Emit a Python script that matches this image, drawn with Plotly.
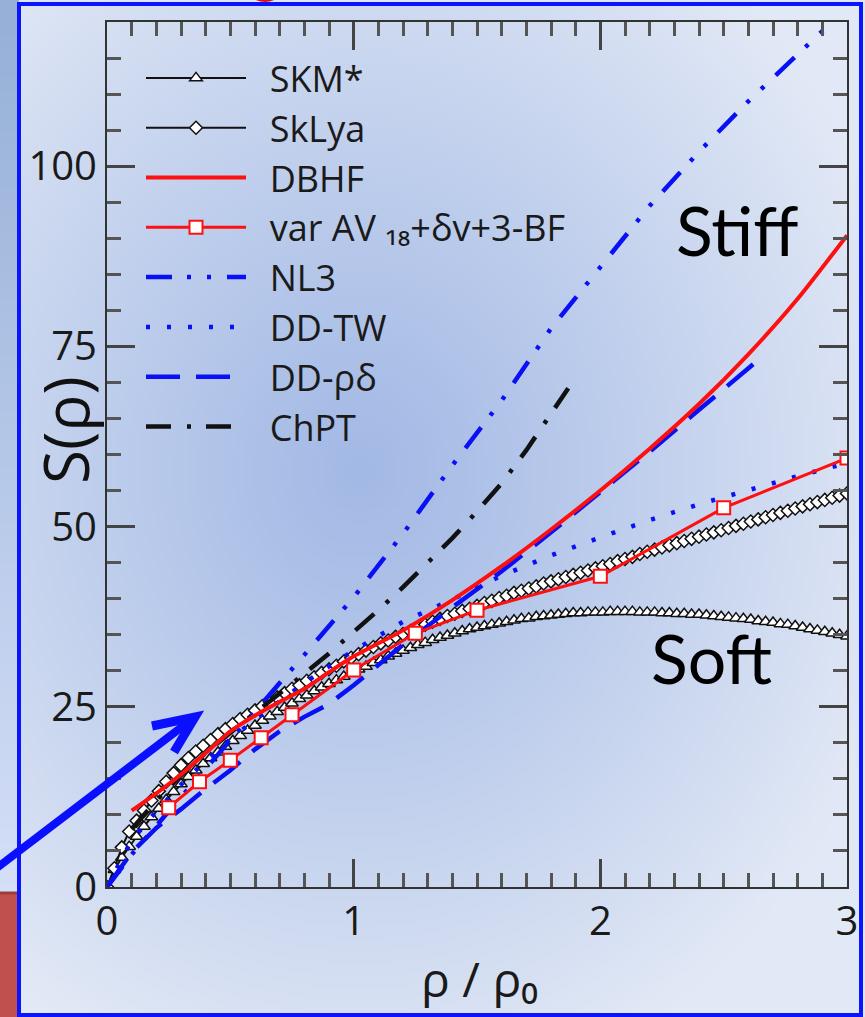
import base64
import struct
import zlib

import numpy as np
import plotly.graph_objects as go

# ---------------- data ----------------
RHO_FINE = [round(0.03 * i, 2) for i in range(101)]

SKM_STAR = [
    0.0, 2.4, 4.1, 5.6, 7.0, 8.4, 9.7, 10.9, 12.1, 13.2,
    14.3, 15.3, 16.2, 17.1, 17.9, 18.7, 19.5, 20.3, 21.0, 21.7,
    22.4, 23.1, 23.7, 24.3, 24.9, 25.5, 26.1, 26.6, 27.2, 27.7,
    28.2, 28.7, 29.2, 29.7, 30.2, 30.6, 31.1, 31.5, 32.0, 32.4,
    32.8, 33.2, 33.6, 33.9, 34.3, 34.6, 34.9, 35.2, 35.5, 35.8,
    36.0, 36.2, 36.4, 36.6, 36.8, 37.0, 37.2, 37.3, 37.5, 37.6,
    37.7, 37.8, 37.9, 38.0, 38.0, 38.1, 38.1, 38.1, 38.2, 38.2,
    38.2, 38.2, 38.1, 38.1, 38.1, 38.0, 38.0, 37.9, 37.9, 37.8,
    37.8, 37.7, 37.6, 37.5, 37.4, 37.3, 37.2, 37.1, 36.9, 36.8,
    36.7, 36.5, 36.4, 36.2, 36.0, 35.8, 35.6, 35.4, 35.2, 35.0,
    34.8,
]

SKLYA = [
    0.0, 2.6, 5.5, 7.7, 9.2, 10.6, 12.0, 13.3, 14.6, 15.8,
    16.9, 17.9, 18.8, 19.6, 20.4, 21.2, 21.9, 22.6, 23.3, 23.9,
    24.5, 25.1, 25.7, 26.3, 26.9, 27.5, 28.0, 28.6, 29.1, 29.7,
    30.2, 30.7, 31.3, 31.8, 32.3, 32.8, 33.3, 33.8, 34.2, 34.7,
    35.1, 35.5, 36.0, 36.4, 36.8, 37.2, 37.6, 37.9, 38.3, 38.6,
    39.0, 39.4, 39.7, 40.1, 40.4, 40.8, 41.1, 41.4, 41.7, 42.1,
    42.4, 42.7, 43.0, 43.3, 43.6, 43.9, 44.2, 44.5, 44.8, 45.2,
    45.5, 45.8, 46.2, 46.5, 46.8, 47.1, 47.4, 47.7, 48.0, 48.3,
    48.6, 48.9, 49.2, 49.5, 49.8, 50.1, 50.4, 50.7, 51.0, 51.3,
    51.6, 51.9, 52.2, 52.5, 52.8, 53.1, 53.4, 53.7, 54.0, 54.3,
    54.6,
]

DBHF_X = [0.1, 0.2, 0.3, 0.4, 0.5, 0.6, 0.7, 0.8, 0.9, 1.0,
          1.2, 1.4, 1.6, 1.8, 2.0, 2.2, 2.4, 2.6, 2.8, 3.0]
DBHF_Y = [10.6, 13.0, 15.6, 18.6, 21.6, 23.8, 25.7, 27.5, 29.8, 32.0,
          35.6, 39.8, 44.5, 49.6, 55.0, 60.8, 67.0, 73.9, 81.6, 90.4]

VAR_AV_X = [0.25, 0.375, 0.5, 0.625, 0.75, 1.0, 1.25, 1.5, 2.0, 2.5, 3.0]
VAR_AV_Y = [11.0, 14.6, 17.6, 20.7, 23.9, 30.1, 35.2, 38.4, 43.1, 52.6, 59.5]

NL3_X = [0.0, 0.1, 0.2, 0.3, 0.4, 0.5, 0.6, 0.7, 0.8, 0.9, 1.0,
         1.2, 1.4, 1.6, 1.8, 2.0, 2.2, 2.4, 2.6, 2.8, 3.0]
NL3_Y = [0.0, 4.5, 8.5, 12.5, 16.5, 20.5, 24.5, 28.3, 32.2, 36.2, 40.2,
         49.0, 58.5, 67.5, 77.5, 86.0, 94.5, 102.0, 109.0, 115.5, 122.0]

DDTW_X = [0.0, 0.1, 0.2, 0.3, 0.4, 0.5, 0.6, 0.7, 0.8, 0.9, 1.0,
          1.2, 1.4, 1.6, 1.8, 2.0, 2.2, 2.4, 2.6, 2.8, 3.0]
DDTW_Y = [0.0, 6.5, 10.5, 14.2, 17.5, 20.5, 23.2, 25.8, 28.3, 30.6, 32.8,
          36.8, 39.9, 43.2, 46.0, 48.5, 50.9, 53.1, 55.1, 57.0, 58.8]

DDRD_X = [0.0, 0.1, 0.2, 0.3, 0.4, 0.5, 0.6, 0.7, 0.8, 0.9, 1.0,
          1.2, 1.4, 1.6, 1.8, 2.0, 2.2, 2.4, 2.65]
DDRD_Y = [0.0, 4.8, 8.2, 10.8, 13.6, 16.2, 19.1, 21.6, 23.6, 25.4, 28.0,
          33.6, 38.8, 43.8, 49.2, 54.7, 60.4, 66.2, 73.4]

CHPT_X = [0.1, 0.2, 0.3, 0.4, 0.5, 0.6, 0.7, 0.8, 0.9, 1.0,
          1.1, 1.2, 1.3, 1.4, 1.5, 1.6, 1.7, 1.87]
CHPT_Y = [8.0, 12.0, 15.5, 18.6, 21.4, 24.1, 26.8, 29.6, 32.4, 35.3,
          38.4, 41.6, 44.9, 48.4, 52.1, 56.0, 60.6, 69.2]

X_TICKS = [0, 1, 2, 3]
Y_TICKS = [0, 25, 50, 75, 100]

# ---------------- page geometry ----------------
W, H = 865, 1017


def px(x):
    return x / W


def py(y):
    return 1 - y / H


def png_uri(arr):
    h, w, _ = arr.shape
    raw = b"".join(b"\x00" + arr[i].tobytes() for i in range(h))

    def chunk(tag, data):
        c = struct.pack(">I", len(data)) + tag + data
        return c + struct.pack(">I", zlib.crc32(tag + data) & 0xFFFFFFFF)

    png = (b"\x89PNG\r\n\x1a\n"
           + chunk(b"IHDR", struct.pack(">IIBBBBB", w, h, 8, 2, 0, 0, 0))
           + chunk(b"IDAT", zlib.compress(raw, 9))
           + chunk(b"IEND", b""))
    return "data:image/png;base64," + base64.b64encode(png).decode()


# inner slide background: soft radial blue gradient
FX0, FY0, FX1, FY1 = 19, 4, 861, 1015
gw, gh = 211, 253
gx = FX0 + (np.arange(gw) + 0.5) * (FX1 - FX0) / gw
gy = FY0 + (np.arange(gh) + 0.5) * (FY1 - FY0) / gh
GX, GY = np.meshgrid(gx, gy)
t = np.sqrt(((GX - 360) / 560.0) ** 2 + ((GY - 470) / 640.0) ** 2)
t = np.clip(t, 0, 1) ** 1.1
c_in = np.array([163, 185, 229], dtype=float)
c_out = np.array([226, 233, 246], dtype=float)
grad = (c_in[None, None, :] * (1 - t[..., None]) + c_out[None, None, :] * t[..., None])
inner_img = png_uri(grad.astype(np.uint8))

# left outer strip: vertical gradient
sh = 64
sy = np.linspace(0, 1, sh)[:, None]
top_c = np.array([150, 176, 215], dtype=float)
bot_c = np.array([212, 223, 248], dtype=float)
strip = (top_c * (1 - sy) + bot_c * sy)[:, None, :].repeat(2, axis=1)
strip_img = png_uri(strip.astype(np.uint8))

# ---------------- figure ----------------
fig = go.Figure()
PAD = "\u00a0\u00a0"
BLUE = "#0a10f5"
RED = "#ff1010"
FONT = "Open Sans, Noto Sans, DejaVu Sans"

fig.add_trace(go.Scatter(
    x=RHO_FINE, y=SKM_STAR, name=PAD + "SKM*", mode="lines+markers", legendrank=1,
    line=dict(color="#111111", width=2),
    marker=dict(symbol="triangle-up", size=11, color="white",
                line=dict(color="#111111", width=1.5)),
))
fig.add_trace(go.Scatter(
    x=RHO_FINE, y=SKLYA, name=PAD + "SkLya", mode="lines+markers", legendrank=2,
    line=dict(color="#111111", width=2),
    marker=dict(symbol="diamond", size=10, color="white",
                line=dict(color="#111111", width=1.5)),
))
fig.add_trace(go.Scatter(
    x=NL3_X, y=NL3_Y, name=PAD + "NL3", mode="lines", legendrank=5,
    line=dict(color=BLUE, width=4.5, dash="26px,15px,4px,16px,4px,16px"),
))
fig.add_trace(go.Scatter(
    x=DDTW_X, y=DDTW_Y, name=PAD + "DD-TW", mode="lines", legendrank=6,
    line=dict(color=BLUE, width=4.5, dash="4px,17px"),
))
fig.add_trace(go.Scatter(
    x=DDRD_X, y=DDRD_Y, name=PAD + "DD-ρδ", mode="lines", legendrank=7,
    line=dict(color=BLUE, width=4.5, dash="34px,16px"),
))
fig.add_trace(go.Scatter(
    x=CHPT_X, y=CHPT_Y, name=PAD + "ChPT", mode="lines", legendrank=8,
    line=dict(color="#111111", width=4.5, dash="25px,16px,4px,15px"),
))
fig.add_trace(go.Scatter(
    x=DBHF_X, y=DBHF_Y, name=PAD + "DBHF", mode="lines", legendrank=3,
    line=dict(color=RED, width=4, shape="spline", smoothing=0.6),
))
fig.add_trace(go.Scatter(
    x=VAR_AV_X, y=VAR_AV_Y, name=PAD + "var AV \u2081\u2088+δv+3-BF",
    mode="lines+markers", legendrank=4,
    line=dict(color=RED, width=3),
    marker=dict(symbol="square", size=13, color="white",
                line=dict(color=RED, width=2)),
))

axis_common = dict(
    showgrid=False, zeroline=False, showline=True, linecolor="#333333",
    linewidth=2, mirror="ticks", ticks="inside", ticklen=28, tickwidth=2.5,
    tickcolor="#444444", automargin=False,
    tickfont=dict(family=FONT, size=40, color="#1a1a1a"),
)

ARROW = "#0a10ff"

fig.update_layout(
    width=W, height=H,
    margin=dict(l=0, r=0, t=0, b=0),
    paper_bgcolor="#dfe6f4",
    plot_bgcolor="rgba(0,0,0,0)",
    showlegend=True,
    legend=dict(
        x=px(141), y=py(48), xanchor="left", yanchor="top",
        bgcolor="rgba(0,0,0,0)", borderwidth=0, itemwidth=100,
        traceorder="normal", tracegroupgap=0,
        font=dict(family=FONT, size=36, color="#1a1a1a"),
    ),
    xaxis=dict(
        domain=[px(107), px(847)], range=[0, 3], tickvals=X_TICKS,
        minor=dict(dtick=0.1, ticklen=14, tickwidth=2.5, tickcolor="#555555",
                   ticks="inside", showgrid=False),
        ticklabelstandoff=-2,
        **axis_common,
    ),
    yaxis=dict(
        domain=[py(887), py(22)], range=[0, 120], tickvals=Y_TICKS,
        minor=dict(dtick=5, ticklen=14, tickwidth=2.5, tickcolor="#555555",
                   ticks="inside", showgrid=False),
        ticklabelstandoff=0,
        **axis_common,
    ),
    images=[
        dict(source=inner_img, xref="paper", yref="paper",
             x=px(FX0), y=py(FY0), sizex=px(FX1 - FX0), sizey=(FY1 - FY0) / H,
             xanchor="left", yanchor="top", sizing="stretch", layer="below"),
        dict(source=strip_img, xref="paper", yref="paper",
             x=0, y=1, sizex=px(FX0), sizey=892 / H,
             xanchor="left", yanchor="top", sizing="stretch", layer="below"),
    ],
    shapes=[
        dict(type="rect", xref="paper", yref="paper",
             x0=0, x1=px(FX0), y0=py(1017), y1=py(892),
             fillcolor="#c0504d", line=dict(width=0), layer="below"),
        dict(type="line", xref="paper", yref="paper",
             x0=0, x1=px(FX0), y0=py(893), y1=py(893),
             line=dict(color="#9e3c3a", width=3), layer="below"),
        dict(type="circle", xref="paper", yref="paper",
             x0=px(253), x1=px(277), y0=py(2), y1=py(-10),
             fillcolor="#e01010", line=dict(width=0), layer="below"),
        dict(type="rect", xref="paper", yref="paper",
             x0=px(FX0), x1=px(FX1), y0=py(FY1), y1=py(FY0),
             line=dict(color="#0a14ff", width=4), fillcolor="rgba(0,0,0,0)",
             layer="above"),
        # blue pointer arrow (shaft + open chevron head)
        dict(type="line", xref="paper", yref="paper",
             x0=px(-6), y0=py(870), x1=px(191), y1=py(720),
             line=dict(color=ARROW, width=8), layer="above"),
        dict(type="path", xref="paper", yref="paper",
             path=(f"M{px(152)},{py(726)} L{px(195)},{py(717)} "
                   f"L{px(174)},{py(752)}"),
             line=dict(color=ARROW, width=9), layer="above"),
    ],
    annotations=[
        dict(text="Stiff", xref="paper", yref="paper", x=px(737), y=py(229),
             xanchor="center", yanchor="middle", showarrow=False,
             font=dict(family="Lato", size=68, color="black")),
        dict(text="Soft", xref="paper", yref="paper", x=px(711), y=py(657),
             xanchor="center", yanchor="middle", showarrow=False,
             font=dict(family="Lato", size=68, color="black")),
        dict(text="S(ρ)", xref="paper", yref="paper", x=px(65), y=py(430),
             xanchor="center", yanchor="middle", textangle=-90, showarrow=False,
             font=dict(family=FONT, size=62, color="#111111")),
        dict(text="ρ / ρ\u2080", xref="paper", yref="paper",
             x=px(480), y=py(978), xanchor="center", yanchor="middle",
             showarrow=False,
             font=dict(family=FONT, size=48, color="#1a1a1a")),
    ],
)

fig.write_html(
    "out.html",
    config={"displayModeBar": False},
    post_script="document.body.style.margin='0px';"
                "document.body.style.overflow='hidden';",
)
